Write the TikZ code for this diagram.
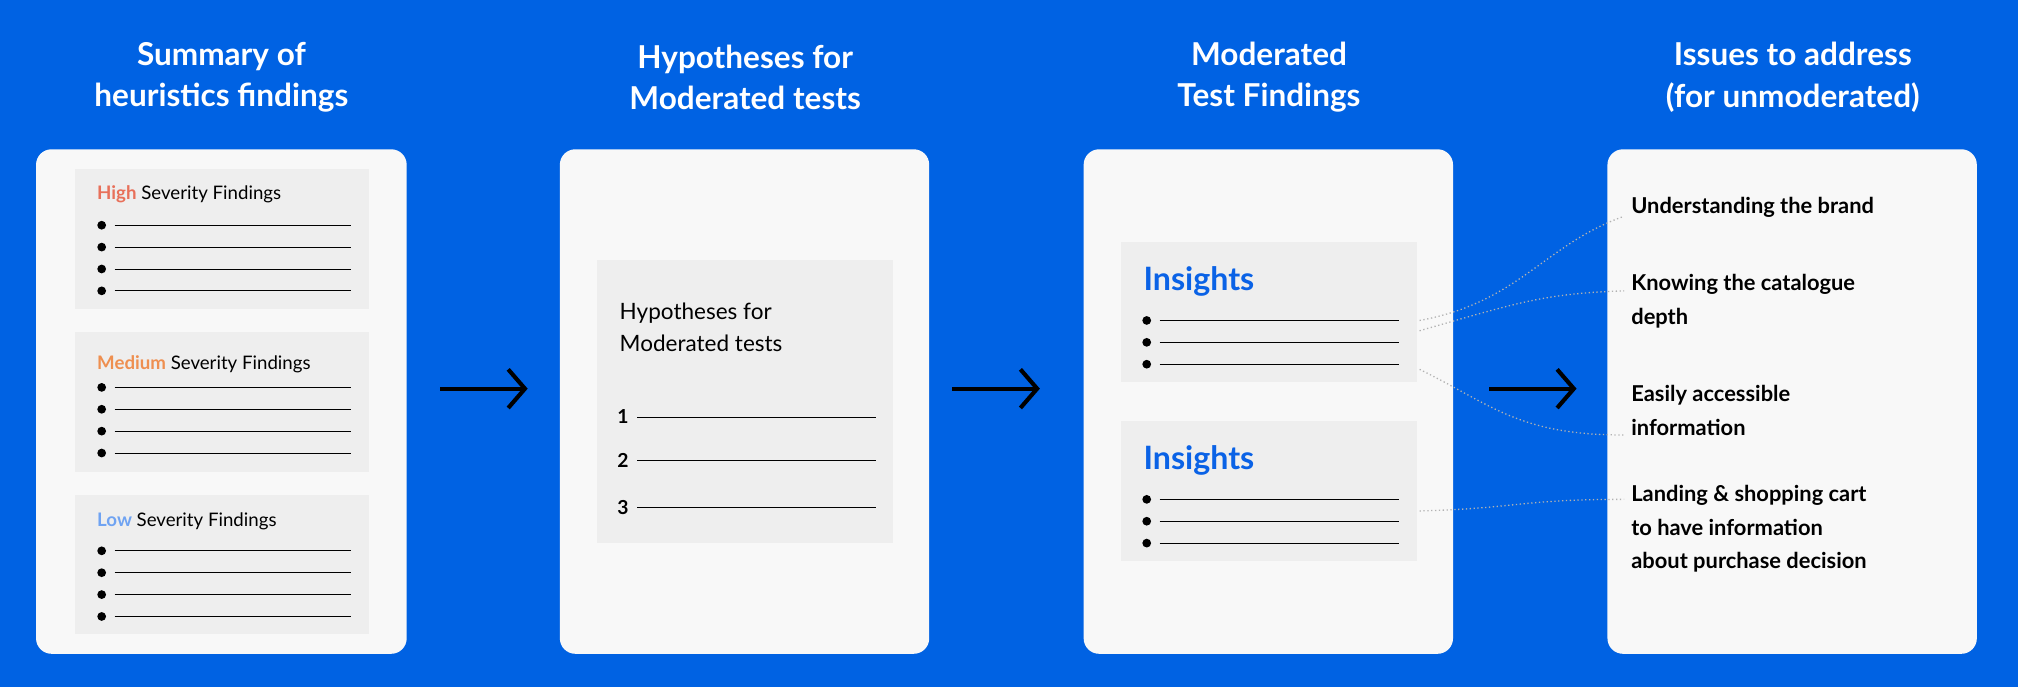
\documentclass[tikz,border=0pt]{standalone}
\usepackage{fontspec}
\setmainfont{Lato}
\usetikzlibrary{arrows.meta}
\definecolor{bg}{HTML}{0062E3}
\definecolor{card}{HTML}{F8F8F8}
\definecolor{inner}{HTML}{EEEEEE}
\definecolor{hi}{HTML}{E8705A}
\definecolor{med}{HTML}{EE8F50}
\definecolor{lo}{HTML}{6FA3F2}
\definecolor{ins}{HTML}{0A62E6}
\begin{document}
\begin{tikzpicture}[x=1pt,y=-1pt,
 cardbox/.style={fill=card,rounded corners=12pt},
 innerbox/.style={fill=inner},
 title/.style={text=white,font=\fontsize{24.5}{32}\selectfont\bfseries,align=center,anchor=center},
 head/.style={anchor=west,font=\fontsize{14.5}{16}\selectfont},
 issue/.style={anchor=west,font=\fontsize{17}{26}\selectfont\bfseries,align=left},
 bigarrow/.style={line width=3.2pt,-{Straight Barb[length=13pt,width=30pt,line width=3.2pt]}},
 dots/.style={gray!60,dotted,line width=1pt}]
\useasboundingbox (0,0) rectangle (1568,534);
\fill[bg] (0,0) rectangle (1568,534);
\newcommand\bl[3]{\foreach \yy in {#3}{\fill (#1,\yy) circle (3.4pt); \draw[line width=0.6pt] (#1+10,\yy)--(#2,\yy);}}
% titles
\node[title] (t1) at (172,60) {Summary of\\heuristics findings};
\node[title] (t2) at (579,60) {Hypotheses for\\Moderated tests};
\node[title] (t3) at (986,60) {Moderated\\Test Findings};
\node[title] (t4) at (1393,60) {Issues to address\\(for unmoderated)};
% cards
\path[cardbox] (28,116) rectangle (316,508);
\path[cardbox] (435,116) rectangle (722,508);
\path[cardbox] (842,116) rectangle (1129,508);
\path[cardbox] (1249,116) rectangle (1536,508);
% col1
\fill[inner] (58,131) rectangle (287,240);
\fill[inner] (58,258) rectangle (287,367);
\fill[inner] (58,385) rectangle (287,493);
\node[head] (h1) at (72,151) {\textcolor{hi}{\bfseries High} Severity Findings};
\node[head] (h2) at (72,283) {\textcolor{med}{\bfseries Medium} Severity Findings};
\node[head] (h3) at (72,405) {\textcolor{lo}{\bfseries Low} Severity Findings};
\bl{79}{273}{175,192,209,226}
\bl{79}{273}{301,318,335,352}
\bl{79}{273}{428,445,462,479}
% col2
\fill[inner] (464,202) rectangle (694,422);
\node[anchor=west,align=left,font=\fontsize{17.5}{25}\selectfont] (hyp) at (478,254) {Hypotheses for\\Moderated tests};
\foreach \n/\yy in {1/324,2/358,3/394}{
 \node[anchor=center,font=\fontsize{15}{15}\selectfont\bfseries] (n\n) at (484,\yy) {\n};
 \draw[line width=0.6pt] (495,\yy)--(681,\yy);}
% col3
\fill[inner] (871,188) rectangle (1101,297);
\fill[inner] (871,327) rectangle (1101,436);
\node[anchor=west,text=ins,font=\fontsize{25}{28}\selectfont\bfseries] (i1) at (885,219) {Insights};
\node[anchor=west,text=ins,font=\fontsize{25}{28}\selectfont\bfseries] (i2) at (885,358) {Insights};
\bl{891}{1087}{249,266,283}
\bl{891}{1087}{388,405,422}
% arrows
\coordinate (a1s) at (342,302); \coordinate (a1e) at (410,302);
\coordinate (a2s) at (740,302); \coordinate (a2e) at (808,302);
\coordinate (a3s) at (1157,302); \coordinate (a3e) at (1225,302);
\draw[bigarrow] (a1s)--(a1e);
\draw[bigarrow] (a2s)--(a2e);
\draw[bigarrow] (a3s)--(a3e);
% issues
\node[issue] (u1) at (1264,161) {Understanding the brand};
\node[issue] (u2) at (1264,234) {Knowing the catalogue\\depth};
\node[issue] (u3) at (1264,319) {Easily accessible\\information};
\node[issue] (u4) at (1264,411) {Landing \& shopping cart\\to have information\\about purchase decision};
% dotted connectors
\coordinate (c1) at (1103,249); \coordinate (c2) at (1103,257);
\coordinate (c3) at (1103,287); \coordinate (c4) at (1103,397);
\coordinate (e1) at (1262,168); \coordinate (e2) at (1262,226);
\coordinate (e3) at (1262,338); \coordinate (e4) at (1262,388);
\draw[dots] (c1) .. controls (1180,235) and (1200,190) .. (e1);
\draw[dots] (c2) .. controls (1180,235) and (1200,228) .. (e2);
\draw[dots] (c3) .. controls (1160,315) and (1180,338) .. (e3);
\draw[dots] (c4) .. controls (1180,395) and (1180,388) .. (e4);
\end{tikzpicture}
\end{document}
